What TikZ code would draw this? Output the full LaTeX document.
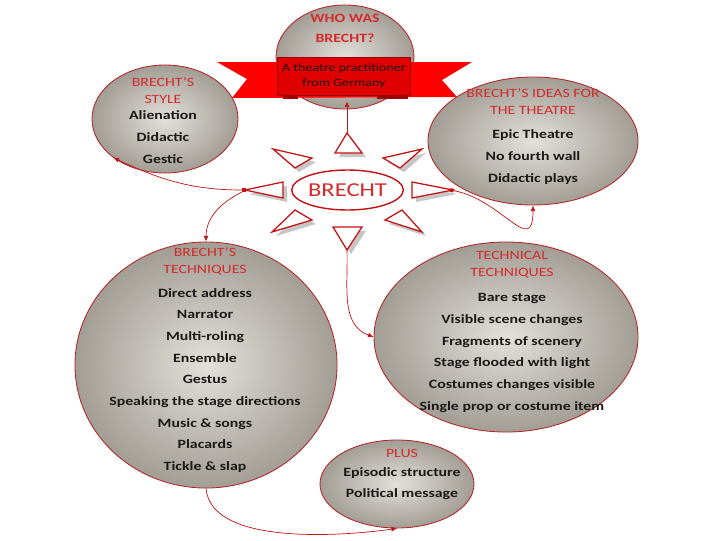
\documentclass[tikz,border=0pt]{standalone}
\usepackage{fontspec}
\setmainfont{Carlito}[FakeStretch=1.25]
\usetikzlibrary{arrows.meta,positioning,shapes.geometric}
\definecolor{hdred}{HTML}{D42A2A}
\definecolor{rimred}{HTML}{B32424}
\definecolor{flagred}{HTML}{FF0000}
\definecolor{boxred}{HTML}{E00000}
\definecolor{foldred}{HTML}{9E0000}
\definecolor{linered}{HTML}{C41212}
\definecolor{ballin}{HTML}{E3E0DA}
\definecolor{ballout}{HTML}{A29E96}
\tikzset{
  bubble/.style 2 args={ellipse, draw=rimred, line width=0.6pt, inner color=ballin, outer color=ballout,
                        minimum width=#1, minimum height=#2, inner sep=0pt},
  hdr/.style={align=center, text=hdred, font=\fontsize{9}{12}\selectfont},
  whohdr/.style={align=center, text=hdred, font=\bfseries\fontsize{9}{14.2}\selectfont},
  items/.style={align=center, text=black!90, font=\bfseries\fontsize{9}{15.4}\selectfont},
  conn/.style={line width=0.5pt, draw=linered, -{Latex[length=1.4mm,width=1.2mm]}},
  connsq/.style={conn, {Square[length=0.9mm,width=0.9mm]}-{Latex[length=1.4mm,width=1.2mm]}},
  ray/.style={draw=linered, line width=0.9pt, fill=white, line join=miter},
}

\begin{document}
\begin{tikzpicture}[x=0.025cm, y=-0.025cm]
\useasboundingbox (0,0) rectangle (720,540);
% who was brecht, behind the banner
\node[bubble={3.45cm}{2.6cm}] (who) at (345,57) {};
\node[whohdr] (whot) at (345,28) {WHO WAS\\BRECHT?};
% banner
\fill[flagred] (217,62) -- (472,62) -- (442,80) -- (457,97) -- (232,98) -- (247,79) -- cycle;
\fill[foldred] (283,92) rectangle (298,99);
\fill[foldred] (377,92) rectangle (408,99);
\node[rectangle, draw=foldred, fill=boxred, line width=0.5pt, minimum width=3.2cm, minimum height=0.95cm,
      align=center, font=\fontsize{8}{10}\selectfont, text=black!90] (box) at (344,76) {A theatre practitioner\\from Germany};

% style
\node[bubble={3.65cm}{2.7cm}] (style) at (165,119) {};
\node[hdr] (stylet) at (163,90.5) {BRECHT'S\\STYLE};
\node[items] (stylei) at (163,137) {Alienation\\Didactic\\Gestic};
% ideas
\node[bubble={5.25cm}{3.2cm}] (ideas) at (533,141) {};
\node[hdr] (ideast) at (533,101.5) {BRECHT'S IDEAS FOR\\THE THEATRE};
\node[items] (ideasi) at (533,157) {Epic Theatre\\No fourth wall\\Didactic plays};
% brecht's techniques
\node[bubble={6.55cm}{6.15cm}] (techs) at (206,365) {};
\node[hdr] (techst) at (205,261.5) {BRECHT'S\\TECHNIQUES};
\node[items] (techsi) at (205,380.5) {Direct address\\Narrator\\Multi-roling\\Ensemble\\Gestus\\Speaking the stage directions\\Music \& songs\\Placards\\Tickle \& slap};
% technical techniques
\node[bubble={6.6cm}{4.75cm}] (tech) at (506,337) {};
\node[hdr] (techt) at (512,264.5) {TECHNICAL\\TECHNIQUES};
\node[items] (techi) at (512,353) {Bare stage\\Visible scene changes\\Fragments of scenery\\Stage flooded with light\\Costumes changes visible\\Single prop or costume item};
% plus
\node[bubble={3.85cm}{2.2cm}] (plus) at (397,484) {};
\node[hdr] (plust) at (402,453) {PLUS};
\node[items] (plusi) at (402,483.5) {Episodic structure\\Political message};

% sun
\begin{scope}[shift={(4,4)}]
\foreach \ax/\ay/\bx/\by/\cx/\cy in {347/133/335/153/362/153, 273/149/312/158/295/168, 422/149/383/158/400/168,
    245/190/283/182/283/198, 453/190/412/182/412/198, 272/232/312/220/295/210, 422/232/385/220/402/210, 347/250/333/227/362/227}
  \fill[gray!45] (\ax,\ay) -- (\bx,\by) -- (\cx,\cy) -- cycle;
\end{scope}
\foreach \ax/\ay/\bx/\by/\cx/\cy in {347/133/335/153/362/153, 273/149/312/158/295/168, 422/149/383/158/400/168,
    245/190/283/182/283/198, 453/190/412/182/412/198, 272/232/312/220/295/210, 422/232/385/220/402/210, 347/250/333/227/362/227}
  \draw[ray] (\ax,\ay) -- (\bx,\by) -- (\cx,\cy) -- cycle;
\node[ellipse, draw=linered, line width=1pt, fill=white, minimum width=2.72cm, minimum height=1cm, inner sep=0pt,
      text=hdred, font=\fontsize{14}{16}\selectfont] (brecht) at (347.5,190) {BRECHT};
\coordinate (rayN) at (347,133);
\coordinate (rayS) at (347,250);
\coordinate (rayW) at (246,190);
\coordinate (rayE) at (450,190);

% connectors
\draw[conn, shorten >=1.5mm] (rayN) -- (rayN |- box.south);
\draw[connsq] (rayW) to[out=180, in=-25] (style.217);
\draw[conn] (rayW) to[out=205, in=90] (techs.north);
\draw[connsq] (rayE) to[out=-10, in=-90, looseness=1.6] (ideas.south);
\draw[conn] (rayS) to[out=-88, in=160] (tech.west);
\draw[conn] (techs.south) to[out=-85, in=188, looseness=0.75] (plus.south);
\end{tikzpicture}
\end{document}
